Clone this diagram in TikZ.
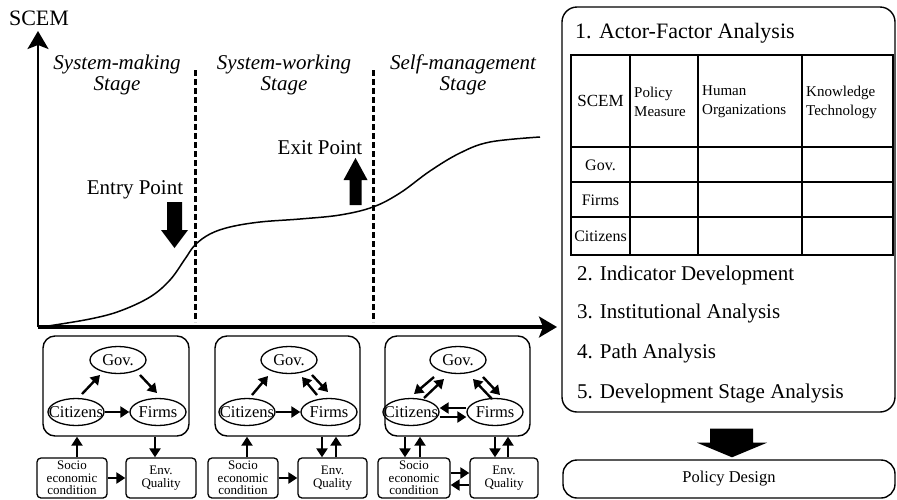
\documentclass[tikz,border=0pt]{standalone}
\usepackage{fontspec}
\setmainfont{Liberation Serif}
\usetikzlibrary{arrows.meta,shapes.geometric,calc}
\begin{document}
\begin{tikzpicture}[x=1pt,y=-1pt,
  axisline/.style={line width=2.4pt,-{Stealth[length=18pt,width=21pt,inset=4pt]}},
  stagedash/.style={line width=3pt,dash pattern=on 5.5pt off 3.5pt},
  sgcurve/.style={line width=1.5pt},
  lab/.style={font=\fontsize{21}{21}\selectfont, inner sep=0pt},
  stagelab/.style={font=\itshape\fontsize{21}{21}\selectfont, align=center, inner sep=0pt},
  panel/.style={draw, line width=1.4pt, rounded corners=12pt},
  actor/.style={draw, ellipse, line width=1.3pt, minimum width=56pt, minimum height=27pt, inner sep=0pt, font=\fontsize{16.5}{16.5}\selectfont},
  factor/.style={draw, line width=1.3pt, rounded corners=4pt, minimum height=40pt, inner sep=0pt, align=center, font=\fontsize{13}{12.5}\selectfont},
  sarrow/.style={line width=2.4pt, -{Triangle[length=9pt,width=11pt]}},
  tline/.style={line width=1.1pt},
  thead/.style={font=\fontsize{15}{19}\selectfont, inner sep=0pt, align=left},
  rowlab/.style={font=\fontsize{16}{16}\selectfont, inner sep=0pt},
  item/.style={font=\fontsize{21}{21}\selectfont, inner sep=0pt, anchor=west}
]
\useasboundingbox (0,0) rectangle (897,499);

% ---------- axes ----------
\coordinate (O) at (38,327);
\coordinate (Ytop) at (38,31);
\coordinate (Xend) at (557,327);
\draw[axisline] (O) -- (Ytop);
\draw[axisline, line width=3.2pt] (O) -- (Xend);
\node[lab, font=\fontsize{22}{22}\selectfont] (scem) at (39,18) {SCEM};

% ---------- stage separators ----------
\draw[stagedash] (195,70) -- (195,322);
\draw[stagedash] (373,70) -- (373,322);

\node[stagelab] (st1) at (117,75) {System-making\\Stage};
\node[stagelab] (st2) at (284,75) {System-working\\Stage};
\node[stagelab] (st3) at (463,75) {Self-management\\Stage};

% ---------- curve ----------
\draw[sgcurve] plot[smooth, tension=0.6] coordinates {(48,326) (90,319) (120,311) (150,297) (170,280) (185,259) (195,245) (210,234) (230,227) (260,222) (300,219) (340,215) (373,207) (400,193) (430,171) (460,153) (490,142) (540,137)};

% ---------- entry / exit ----------
\node[lab] (entry) at (135,190) {Entry Point};
\node[lab] (exit) at (320,148) {Exit Point};
\fill (167,202) -- (182,202) -- (182,230) -- (188,230) -- (174.5,248) -- (161,230) -- (167,230) -- cycle;
\fill (349.5,205) -- (361.5,205) -- (361.5,180) -- (367.5,180) -- (355.5,158) -- (343.5,180) -- (349.5,180) -- cycle;

% ---------- stage panels ----------
\node[panel, minimum width=146pt, minimum height=100pt] (b1) at (116,386) {};
\node[panel, minimum width=145pt, minimum height=100pt] (b2) at (287.5,386) {};
\node[panel, minimum width=145pt, minimum height=100pt] (b3) at (457.5,386) {};

\node[actor] (g1) at (118,360) {\makebox[0pt]{Gov.}};
\node[actor] (c1) at (76,412) {\makebox[0pt]{Citizens}};
\node[actor] (f1) at (158,412) {\makebox[0pt]{Firms}};
\node[actor] (g2) at (289,360) {\makebox[0pt]{Gov.}};
\node[actor] (c2) at (247,412) {\makebox[0pt]{Citizens}};
\node[actor] (f2) at (329,412) {\makebox[0pt]{Firms}};
\node[actor] (g3) at (458,360) {\makebox[0pt]{Gov.}};
\node[actor] (c3) at (411,412) {\makebox[0pt]{Citizens}};
\node[actor] (f3) at (495,412) {\makebox[0pt]{Firms}};

\node[factor, minimum width=70pt] (s1) at (72,478) {Socio\\economic\\condition};
\node[factor, minimum width=70pt] (e1) at (161,478) {Env.\\Quality};
\node[factor, minimum width=70pt] (s2) at (243,478) {Socio\\economic\\condition};
\node[factor, minimum width=69pt] (e2) at (332.5,478) {Env.\\Quality};
\node[factor, minimum width=72pt] (s3) at (414,478) {Socio\\economic\\condition};
\node[factor, minimum width=68pt] (e3) at (504,478) {Env.\\Quality};

% panel 1 arrows
\draw[sarrow] ([shift={(6pt,18pt)}]c1.center) -- ([shift={(-18pt,-15pt)}]g1.center);
\draw[sarrow] ([shift={(22pt,-15pt)}]g1.center) -- ([shift={(-1pt,19pt)}]f1.center);
\draw[sarrow] (c1.east) -- (f1.west);
\draw[sarrow] ([xshift=5pt]s1.north) -- ([xshift=5pt]s1.north |- b1.south);
\draw[sarrow] ([xshift=-6pt]e1.north |- b1.south) -- ([xshift=-6pt]e1.north);
\draw[sarrow] (s1.east) -- (e1.west);

% panel 2 arrows
\draw[sarrow] ([shift={(5pt,17pt)}]c2.center) -- ([shift={(-21pt,-16pt)}]g2.center);
\draw[sarrow] ([shift={(23pt,-15pt)}]g2.center) -- ([shift={(-1pt,20pt)}]f2.center);
\draw[sarrow] ([shift={(-12pt,17pt)}]f2.center) -- ([shift={(13pt,-17pt)}]g2.center);
\draw[sarrow] (c2.east) -- (f2.west);
\draw[sarrow] ([xshift=4pt]s2.north) -- ([xshift=4pt]s2.north |- b2.south);
\draw[sarrow] ([xshift=-10.5pt]e2.north |- b2.south) -- ([xshift=-10.5pt]e2.north);
\draw[sarrow] ([xshift=3.5pt]e2.north) -- ([xshift=3.5pt]e2.north |- b2.south);
\draw[sarrow] (s2.east) -- (e2.west);

% panel 3 arrows
\draw[sarrow] ([shift={(-24pt,-17pt)}]g3.center) -- ([shift={(3pt,18pt)}]c3.center);
\draw[sarrow] ([shift={(13pt,14pt)}]c3.center) -- ([shift={(-14pt,-19pt)}]g3.center);
\draw[sarrow] ([shift={(25pt,-17pt)}]g3.center) -- ([shift={(5pt,17pt)}]f3.center);
\draw[sarrow] ([shift={(-3pt,13pt)}]f3.center) -- ([shift={(15pt,-19pt)}]g3.center);
\draw[sarrow] ([yshift=4pt]f3.west) -- ([yshift=4pt]c3.east);
\draw[sarrow] ([yshift=-5pt]c3.east) -- ([yshift=-5pt]f3.west);
\draw[sarrow] ([xshift=-9pt]s3.north |- b3.south) -- ([xshift=-9pt]s3.north);
\draw[sarrow] ([xshift=6pt]s3.north) -- ([xshift=6pt]s3.north |- b3.south);
\draw[sarrow] ([xshift=-9pt]e3.north |- b3.south) -- ([xshift=-9pt]e3.north);
\draw[sarrow] ([xshift=4pt]e3.north) -- ([xshift=4pt]e3.north |- b3.south);
\draw[sarrow] ([yshift=5pt]s3.east) -- ([yshift=5pt]e3.west);
\draw[sarrow] ([yshift=-7pt]e3.west) -- ([yshift=-7pt]s3.east);

% ---------- right panel ----------
\node[panel, rounded corners=15pt, minimum width=333pt, minimum height=405pt] (rp) at (728.5,209.5) {};
\node[item, font=\fontsize{22}{22}\selectfont] (i1) at (575,33) {1. Actor-Factor Analysis};

\draw[tline] (571,55) rectangle (893,255);
\draw[tline] (630,55) -- (630,255);
\draw[tline] (698,55) -- (698,255);
\draw[tline] (802,55) -- (802,255);
\draw[tline] (571,147) -- (893,147);
\draw[tline] (571,182) -- (893,182);
\draw[tline] (571,217) -- (893,217);

\node[rowlab, font=\fontsize{17}{17}\selectfont] (hscem) at (600.5,101) {SCEM};
\node[thead, anchor=west] (hpm) at (634,102) {Policy\\Measure};
\node[thead, anchor=west] (hho) at (702,102) {Human\\Organizations};
\node[thead, anchor=west] (hkt) at (806,102) {Knowledge\\Technology};
\node[rowlab] (rgov) at (600.5,165) {Gov.};
\node[rowlab] (rfirm) at (600.5,200) {Firms};
\node[rowlab] (rcit) at (600.5,236) {Citizens};

\node[item] (i2) at (577,275) {2. Indicator Development};
\node[item] (i3) at (577,313) {3. Institutional Analysis};
\node[item] (i4) at (577,353) {4. Path Analysis};
\node[item] (i5) at (577,393) {5. Development Stage Analysis};

\node[panel, rounded corners=14pt, minimum width=332pt, minimum height=38pt, font=\fontsize{16.5}{16.5}\selectfont] (pd) at (729,479) {Policy Design};

\fill ($(rp.south)+(-18.5,16)$) -- ($(rp.south)+(24.5,16)$) -- ($(rp.south)+(24.5,30)$) -- ($(rp.south)+(38.5,30)$) -- ($(pd.north)+(3,-2)$) -- ($(rp.south)+(-31.5,30)$) -- ($(rp.south)+(-18.5,30)$) -- cycle;
\end{tikzpicture}
\end{document}
